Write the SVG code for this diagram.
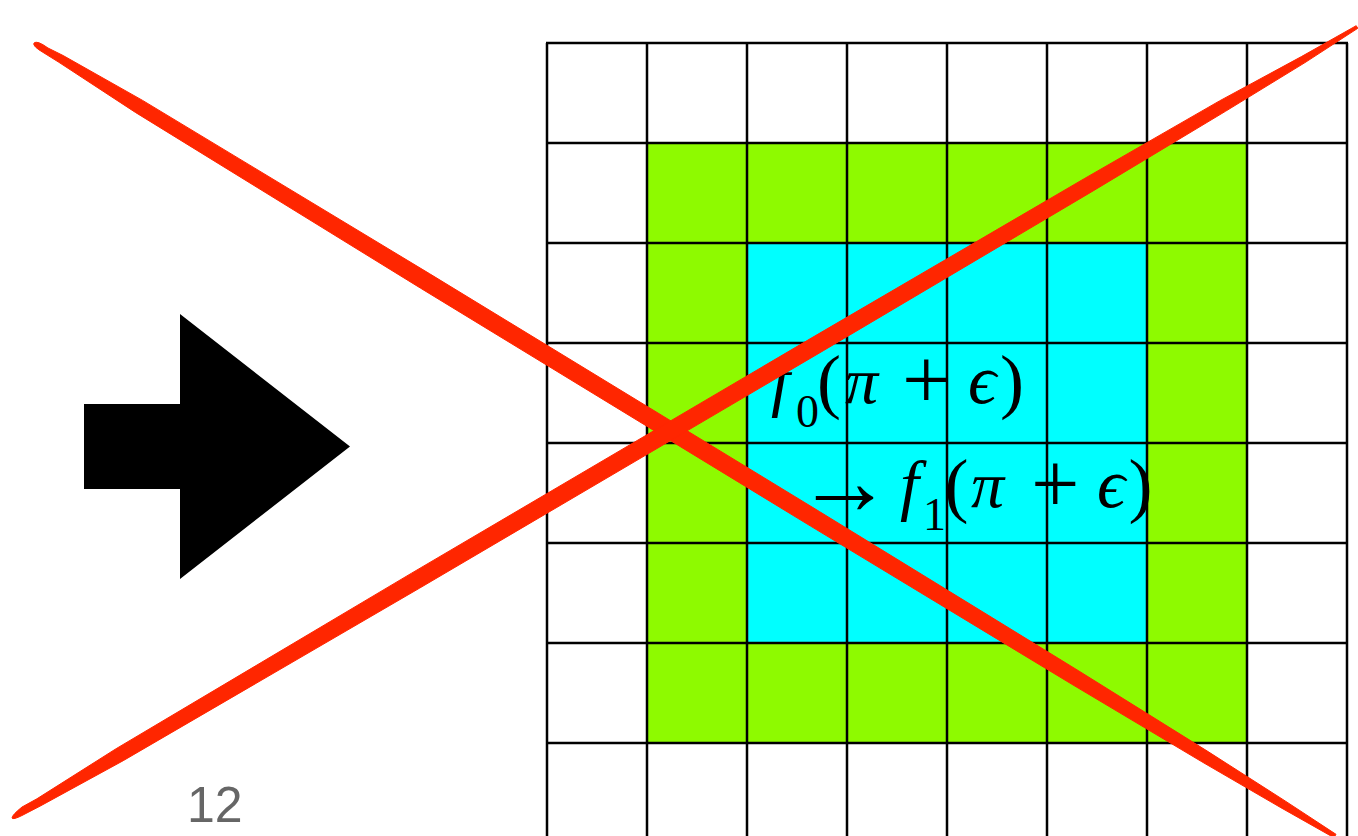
<svg xmlns="http://www.w3.org/2000/svg" width="1358" height="836" viewBox="0 0 1358 836">
<style>
.grid line{stroke:#000;stroke-width:2.5}
.m{font-family:"Liberation Serif","DejaVu Serif",serif;fill:#000}
.it{font-style:italic}
.red{fill:#FF2600;stroke:#FF2600;stroke-width:1;stroke-linejoin:round}
</style>
<rect width="1358" height="836" fill="#fff"/>
<g id="fills">
<rect x="647" y="143" width="600" height="600" fill="#8EFA00"/>
<rect x="747" y="243" width="400" height="400" fill="#00FFFF"/>
</g>
<g id="grid" class="grid">
<line x1="547" y1="43" x2="547" y2="836"/>
<line x1="647" y1="43" x2="647" y2="836"/>
<line x1="747" y1="43" x2="747" y2="836"/>
<line x1="847" y1="43" x2="847" y2="836"/>
<line x1="947" y1="43" x2="947" y2="836"/>
<line x1="1047" y1="43" x2="1047" y2="836"/>
<line x1="1147" y1="43" x2="1147" y2="836"/>
<line x1="1247" y1="43" x2="1247" y2="836"/>
<line x1="1347" y1="43" x2="1347" y2="836"/>
<line x1="546" y1="43" x2="1348" y2="43"/>
<line x1="546" y1="143" x2="1348" y2="143"/>
<line x1="546" y1="243" x2="1348" y2="243"/>
<line x1="546" y1="343" x2="1348" y2="343"/>
<line x1="546" y1="443" x2="1348" y2="443"/>
<line x1="546" y1="543" x2="1348" y2="543"/>
<line x1="546" y1="643" x2="1348" y2="643"/>
<line x1="546" y1="743" x2="1348" y2="743"/>
</g>
<g id="formula">
<text class="m" y="403"><tspan class="it" x="771" y="404" font-size="68">f</tspan><tspan x="796" y="427" font-size="46">0</tspan><tspan x="817" y="405" font-size="72">(</tspan><tspan class="it" x="845" y="403" font-size="66">π</tspan><tspan x="902" y="409" font-size="86">+</tspan><tspan class="it" x="968" y="403" font-size="70">ϵ</tspan><tspan x="1000" y="405" font-size="72">)</tspan></text>
<text class="m" y="507"><tspan x="796" y="514" font-size="97">→</tspan><tspan class="it" x="900" y="508" font-size="68">f</tspan><tspan x="923" y="530" font-size="46">1</tspan><tspan x="944.5" y="509" font-size="72">(</tspan><tspan class="it" x="971" y="507" font-size="66">π</tspan><tspan x="1031" y="513" font-size="86">+</tspan><tspan class="it" x="1097" y="507" font-size="70">ϵ</tspan><tspan x="1128.5" y="509" font-size="72">)</tspan></text>
</g>
<g id="arrow">
<polygon points="84,404 180,404 180,314 350,446.5 180,579 180,489 84,489" fill="#000"/>
</g>
<g id="page-number">
<text x="187" y="822" font-family="Liberation Sans, Arial, sans-serif" font-size="50" fill="#666">12</text>
</g>
<g id="cross">
<path class="red" d="M34,43 Q37,40 48,48 L63.1,55.5 L142.6,100.4 L429.4,273.6 L819.4,511.5 L1078.9,671 L1208.1,751.6 L1285.1,800.9 L1336,834.3 L1334,837.7 L1280.9,807.7 L1201.9,761.8 L1071.1,683.8 L810.6,526.1 L420.6,288.2 L135.4,112.4 L58.9,62.3 L44,53 Q32,46 34,43 Z"/>
<path class="red" d="M12,818 Q12,815 22,807 L36.9,798.8 L116.1,748.7 L411.2,573.4 L814.7,336.1 L1084.2,178.7 L1219.5,100.9 L1301.4,56.6 L1356.2,25.7 L1357.8,28.3 L1305,62.6 L1225.5,111.3 L1091.8,191.7 L823.3,350.7 L419.8,588 L123.2,760.7 L40.9,805.7 L22,815.5 Q13,820 12,818 Z"/>
</g>
</svg>
